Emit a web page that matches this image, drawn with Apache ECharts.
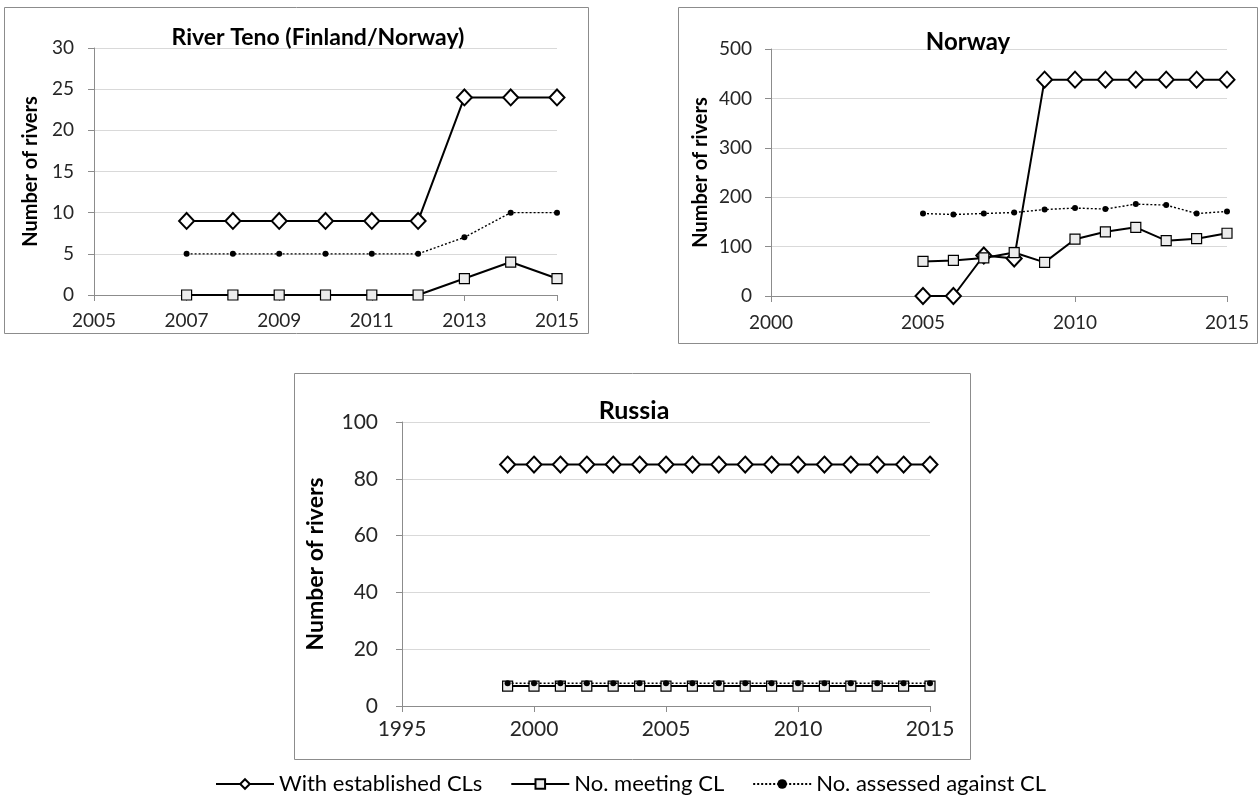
<!DOCTYPE html>
<html>
<head>
<meta charset="utf-8">
<script src="https://cdn.jsdelivr.net/npm/echarts@6/dist/echarts.min.js"></script>
<style>
html,body{margin:0;padding:0;background:#fff;}
#c{width:1260px;height:796px;}
</style>
</head>
<body>
<div id="c"></div>
<script>
// ---- data ----
var seriesNames = ['With established CLs', 'No. meeting CL', 'No. assessed against CL'];

var tenoYears = ['2005','2006','2007','2008','2009','2010','2011','2012','2013','2014','2015'];
var tenoEstablished = ['-','-',9,9,9,9,9,9,24,24,24];
var tenoMeeting     = ['-','-',0,0,0,0,0,0,2,4,2];
var tenoAssessed    = ['-','-',5,5,5,5,5,5,7,10,10];

var norwayYears = ['2000','2001','2002','2003','2004','2005','2006','2007','2008','2009','2010','2011','2012','2013','2014','2015'];
var norwayEstablished = ['-','-','-','-','-',0,0,82,76,438,438,438,438,438,438,438];
var norwayMeeting     = ['-','-','-','-','-',70,72,77,88,68,115,130,139,112,116,127];
var norwayAssessed    = ['-','-','-','-','-',167,165,167,169,175,178,176,186,184,167,171];

var russiaYears = ['1995','1996','1997','1998','1999','2000','2001','2002','2003','2004','2005','2006','2007','2008','2009','2010','2011','2012','2013','2014','2015'];
var russiaEstablished = ['-','-','-','-',85,85,85,85,85,85,85,85,85,85,85,85,85,85,85,85,85];
var russiaMeeting     = ['-','-','-','-',7,7,7,7,7,7,7,7,7,7,7,7,7,7,7,7,7];
var russiaAssessed    = ['-','-','-','-',8,8,8,8,8,8,8,8,8,8,8,8,8,8,8,8,8];

// ---- chart ----
var FONT = 'Lato';
var chart = echarts.init(document.getElementById('c'), null, {renderer: 'canvas'});

function xAxis(idx, cats, labelInt, fs, margin) {
  return {
    type: 'category', gridIndex: idx, data: cats, boundaryGap: false,
    axisLine: {lineStyle: {color: '#8c8c8c', width: 1}},
    axisTick: {show: true, interval: labelInt, length: 6, lineStyle: {color: '#8c8c8c'}},
    axisLabel: {interval: labelInt, color: '#262626', fontFamily: FONT, fontSize: fs, margin: margin},
    splitLine: {show: false}
  };
}
function yAxis(idx, max, step, fs, nfs, gap, margin) {
  return {
    type: 'value', gridIndex: idx, min: 0, max: max, interval: step,
    name: 'Number of rivers', nameLocation: 'middle', nameGap: gap, nameRotate: 90,
    nameTextStyle: {fontFamily: FONT, fontWeight: 'bold', fontSize: nfs, color: '#000'},
    axisLine: {show: true, lineStyle: {color: '#8c8c8c', width: 1}},
    axisTick: {show: true, length: 6, lineStyle: {color: '#8c8c8c'}},
    axisLabel: {color: '#262626', fontFamily: FONT, fontSize: fs, margin: margin},
    splitLine: {lineStyle: {color: '#d9d9d9', width: 1}}
  };
}
function trio(idx, est, meet, ass) {
  return [
    {name: seriesNames[0], type: 'line', xAxisIndex: idx, yAxisIndex: idx, data: est,
     symbol: 'diamond', symbolSize: [15, 16], showAllSymbol: true,
     lineStyle: {color: '#000', width: 2}, itemStyle: {color: '#fff', borderColor: '#000', borderWidth: 2},
     z: 3},
    {name: seriesNames[1], type: 'line', xAxisIndex: idx, yAxisIndex: idx, data: meet,
     symbol: 'rect', symbolSize: 10, showAllSymbol: true,
     lineStyle: {color: '#000', width: 2}, itemStyle: {color: '#ececec', borderColor: '#000', borderWidth: 1.2},
     z: 4},
    {name: seriesNames[2], type: 'line', xAxisIndex: idx, yAxisIndex: idx, data: ass,
     symbol: 'circle', symbolSize: 6, showAllSymbol: true,
     lineStyle: {color: '#000', width: 1.4, type: [2, 2]}, itemStyle: {color: '#000', borderWidth: 0},
     z: 5}
  ];
}

var option = {
  animation: false,
  backgroundColor: '#fff',
  textStyle: {fontFamily: FONT},
  title: [
    {text: 'River Teno (Finland/Norway)', left: 313, top: 21, textAlign: 'center',
     textStyle: {fontFamily: FONT, fontWeight: 'bold', fontSize: 23, color: '#000'}},
    {text: 'Norway', left: 963, top: 25, textAlign: 'center',
     textStyle: {fontFamily: FONT, fontWeight: 'bold', fontSize: 24, color: '#000'}},
    {text: 'Russia', left: 629, top: 393, textAlign: 'center',
     textStyle: {fontFamily: FONT, fontWeight: 'bold', fontSize: 25, color: '#000'}}
  ],
  grid: [
    {left: 94, top: 48, width: 463, height: 247},
    {left: 771, top: 49, width: 456, height: 247},
    {left: 402, top: 422, width: 528, height: 284}
  ],
  xAxis: [
    xAxis(0, tenoYears, 1, 19, 16),
    xAxis(1, norwayYears, 4, 19, 17),
    xAxis(2, russiaYears, 4, 21, 13)
  ],
  yAxis: [
    yAxis(0, 30, 5, 19, 20, 53, 20),
    yAxis(1, 500, 100, 19, 20, 60, 19),
    yAxis(2, 100, 20, 21, 23, 75, 24)
  ],
  legend: {
    data: seriesNames, top: 768, left: 210, itemWidth: 58, itemHeight: 12, itemGap: 28,
    textStyle: {fontFamily: FONT, fontSize: 22, color: '#000'}
  },
  graphic: [
    {type: 'rect', shape: {x: 4.5, y: 7.5, width: 584, height: 326}, style: {fill: 'none', stroke: '#8c8c8c', lineWidth: 1}, silent: true},
    {type: 'rect', shape: {x: 678.5, y: 7.5, width: 579, height: 336}, style: {fill: 'none', stroke: '#8c8c8c', lineWidth: 1}, silent: true},
    {type: 'rect', shape: {x: 294.5, y: 373.5, width: 676, height: 386}, style: {fill: 'none', stroke: '#8c8c8c', lineWidth: 1}, silent: true}
  ],
  series: [].concat(
    trio(0, tenoEstablished, tenoMeeting, tenoAssessed),
    trio(1, norwayEstablished, norwayMeeting, norwayAssessed),
    trio(2, russiaEstablished, russiaMeeting, russiaAssessed)
  )
};
chart.setOption(option);
</script>
</body>
</html>
